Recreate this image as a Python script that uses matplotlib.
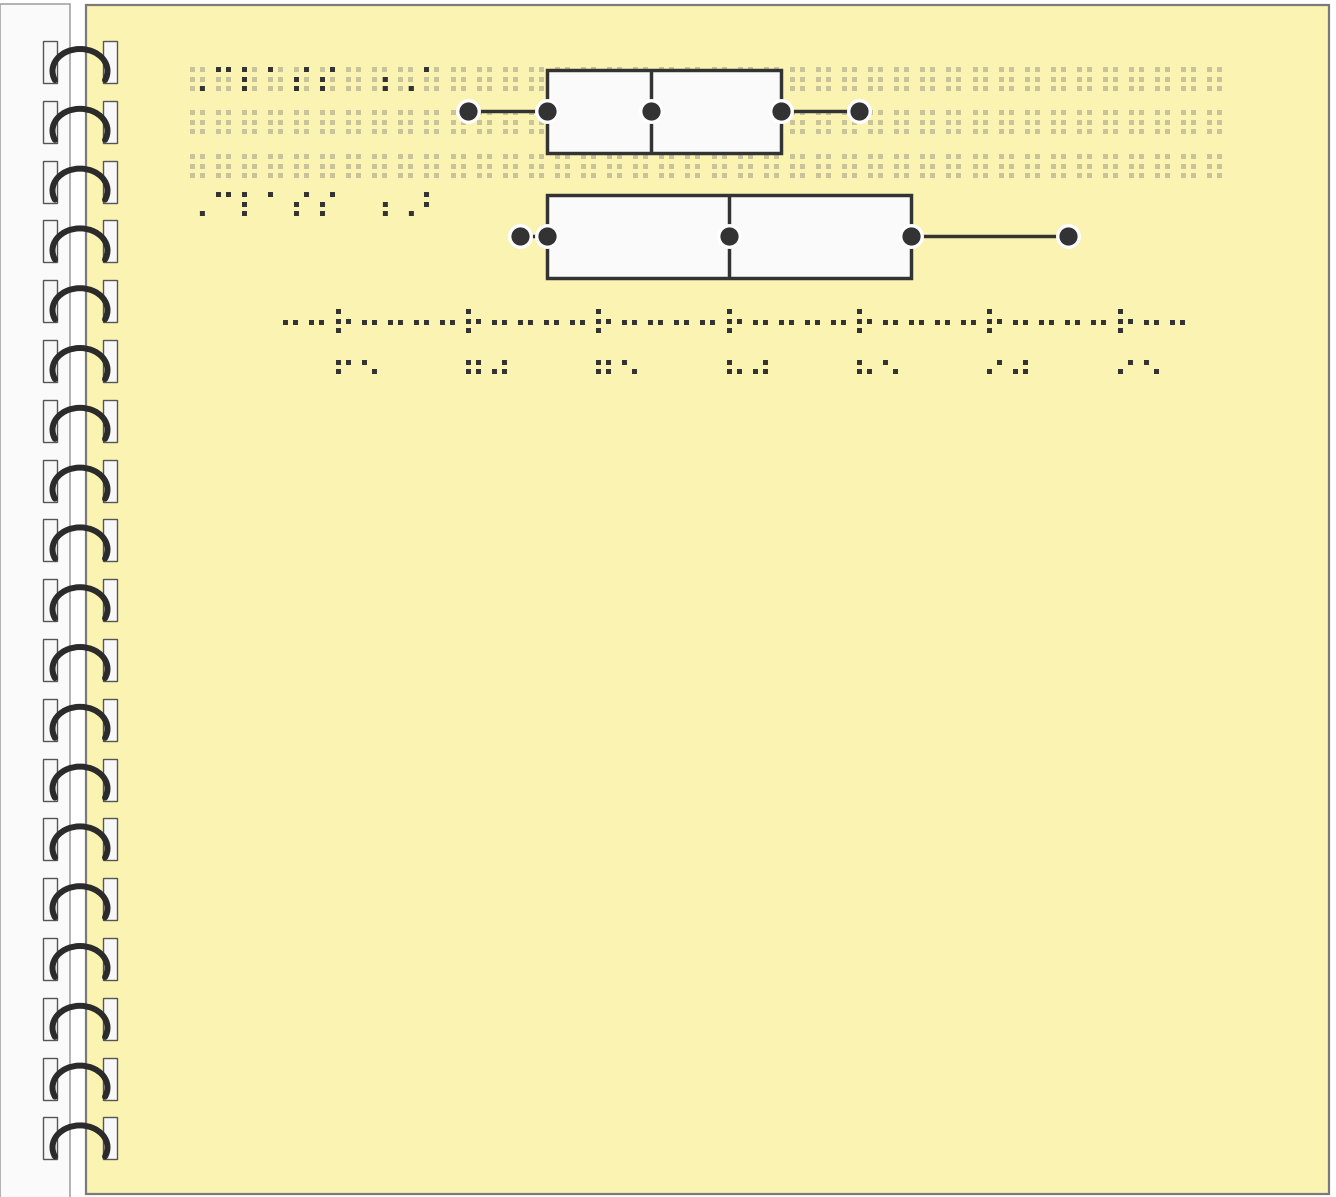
import matplotlib
matplotlib.use('Agg')
import matplotlib.pyplot as plt
from matplotlib.patches import Rectangle, Arc
from matplotlib.textpath import TextPath
from matplotlib.font_manager import FontProperties
from matplotlib.transforms import blended_transform_factory, offset_copy

# data
categories = ['Class A', 'Class B']
braille_labels = ['⠠⠉⠇⠁⠎⠎ ⠰⠠⠁', '⠠⠉⠇⠁⠎⠎ ⠰⠠⠃']
whis_lo = [70, 72]
q1 = [73, 73]
median = [77, 80]
q3 = [82, 87]
whis_hi = [85, 93]
xticks = [65, 70, 75, 80, 85, 90, 95]
axis_cells = list(range(63, 98))

W, H = 1336, 1197
PAGE = '#fbf3b1'
INK = '#333333'
FAINT = '#c9c39c'

nemeth = dict(zip('0123456789', '⠴⠂⠆⠒⠲⠢⠖⠶⠦⠔'))

fig = plt.figure(figsize=(W / 100, H / 100), dpi=100)
fig.patch.set_facecolor('white')
bg = fig.add_axes([0, 0, 1, 1], zorder=0)
bg.set_xlim(0, W)
bg.set_ylim(H, 0)
bg.axis('off')

# notebook cover + page
bg.add_patch(Rectangle((0, 4), 70, H, fc='#fafafb', ec='#a5a5a5', lw=1.2))
bg.add_patch(Rectangle((86, 5), 1243, 1189, fc=PAGE, ec='#7a7a7a', lw=1.6))

# spiral rings
for i in range(19):
    top = 41 + i * 59.8
    for x0 in (43, 103):
        bg.add_patch(Rectangle((x0, top), 14, 42, fc='#f7f7f8', ec='#555555', lw=1.0, zorder=3))
    bg.add_patch(Arc((80, top + 30), 55, 44, theta1=160, theta2=380,
                     color='#2b2b2b', lw=4.3, zorder=4, capstyle='round'))

# chart axes, placed so 65 -> 338px and 95 -> 1120px
x0, x1 = 60, 100
px_per = (1120 - 338) / 30.0
left_px = 338 - (65 - x0) * px_per
right_px = 338 + (x1 - 65) * px_per
top_px, bot_px = 111 - 62.5, 236 + 62.5
ax = fig.add_axes([left_px / W, 1 - bot_px / H, (right_px - left_px) / W, (bot_px - top_px) / H], zorder=2)
ax.set_xlim(x0, x1)
ax.set_ylim(1.5, -0.5)
ax.axis('off')

stats = []
for i in range(len(categories)):
    stats.append(dict(med=median[i], q1=q1[i], q3=q3[i], whislo=whis_lo[i],
                      whishi=whis_hi[i], fliers=[], label=categories[i]))
bxp_kw = dict(positions=range(len(categories)), widths=0.664, patch_artist=True,
              showcaps=False, showfliers=False, manage_ticks=False,
              boxprops=dict(facecolor='#fafafa', edgecolor=INK, linewidth=2.5),
              whiskerprops=dict(color=INK, linewidth=2.5),
              medianprops=dict(color=INK, linewidth=2.5))
try:
    ax.bxp(stats, orientation='horizontal', **bxp_kw)
except TypeError:
    ax.bxp(stats, vert=False, **bxp_kw)

for i in range(len(categories)):
    xs = [whis_lo[i], q1[i], median[i], q3[i], whis_hi[i]]
    for xv in xs:
        ax.plot([xv], [i], 'o', ms=15.5, mfc=INK, mec='white', mew=2.4, zorder=5, clip_on=False)

# braille text helpers: place a cell so that dot 1 sits at the given point
fp = FontProperties(family='DejaVu Sans')
e1 = TextPath((0, 0), '⠁', size=100, prop=fp).get_extents()
e14 = TextPath((0, 0), '⠉', size=100, prop=fp).get_extents()
spacing100 = e14.width - e1.width
fs = 100 * 7.2 / spacing100
c1x = (e1.x0 + e1.width / 2) * fs / 100
c1y = (e1.y0 + e1.height / 2) * fs / 100


def cell(x, y, ch, trans, color=INK, dy_pt=0.0, z=3):
    if ch == ' ':
        return
    t = offset_copy(trans, fig=fig, x=-c1x, y=-c1y + dy_pt, units='points')
    bg.text(x, y, ch, transform=t, fontproperties=fp, fontsize=fs, color=color,
            ha='left', va='baseline', zorder=z)


# faint empty cells behind the focused row
for yl in (70, 113, 157):
    for k in range(40):
        cell(192 + 26.1 * k, yl, '⠿', bg.transData, color=FAINT, z=1)

# row labels
lab_trans = blended_transform_factory(bg.transData, ax.transData)
for i, lab in enumerate(braille_labels):
    for k, ch in enumerate(lab):
        cell(192 + 26.1 * k, i, ch, lab_trans, dy_pt=41 * 0.72)

# x axis line and tick labels
axis_trans = blended_transform_factory(ax.transData, bg.transData)
for v in axis_cells:
    cell(v, 312, '⠗' if v % 5 == 0 else '⠒', axis_trans)
for t in xticks:
    for k, d in enumerate(str(t)):
        cell(t + k, 353, nemeth[d], axis_trans)

fig.savefig('out.png', dpi=100, facecolor=fig.get_facecolor())
